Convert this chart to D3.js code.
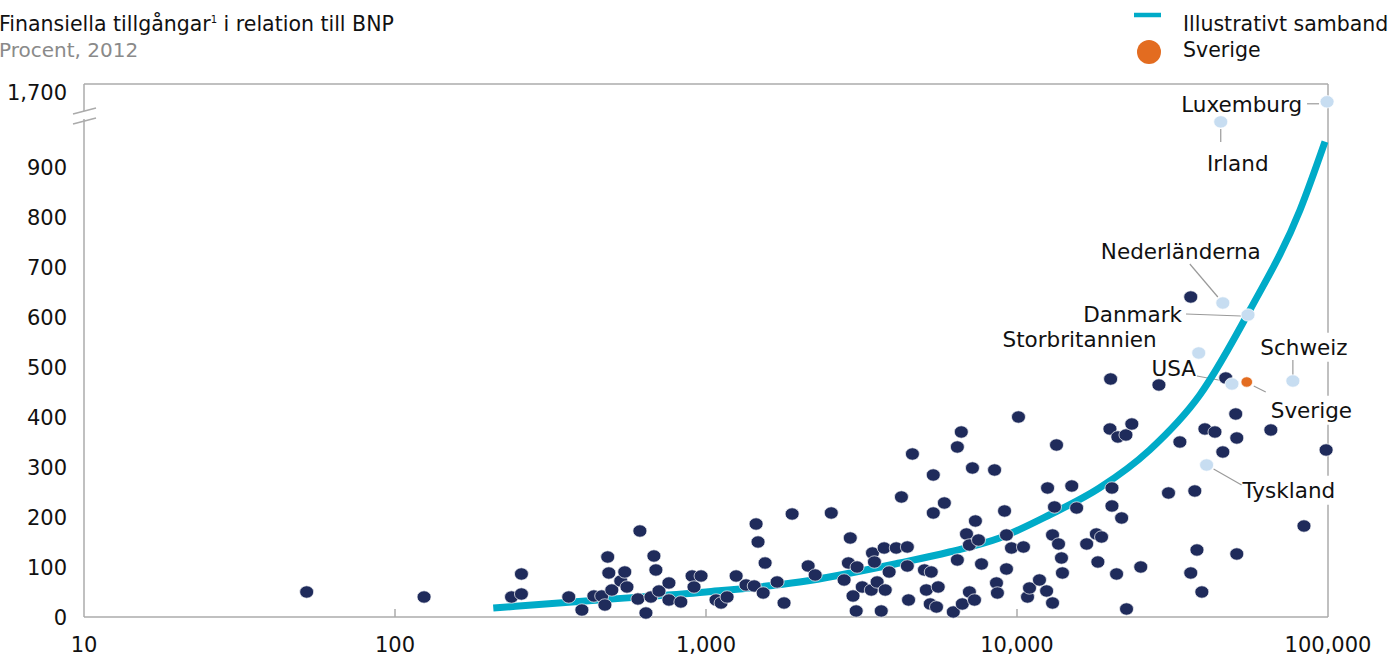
<!DOCTYPE html>
<html lang="sv">
<head>
<meta charset="utf-8">
<title>Finansiella tillgångar i relation till BNP</title>
<script src="https://cdn.jsdelivr.net/npm/d3@7/dist/d3.min.js"></script>
<style>
  body { margin: 0; background: #fff; }
  svg { font-family: "DejaVu Sans", sans-serif; }
</style>
</head>
<body>
<div class="chart"></div>
<script>
// BNP per capita (USD) och finansiella tillgångar (% av BNP), 2012
var gdp = [52, 124, 237, 255, 255, 362, 399, 436, 462, 473, 483, 487, 498, 532, 548, 557, 613, 604, 641, 665,
  680, 690, 706, 760, 760, 830, 902, 964, 915, 1077, 1118, 1169, 1250, 1345, 1429, 1449, 1470, 1527, 1549, 1693,
  1782, 1892, 2130, 2244, 2528, 2780, 2910, 2870, 3060, 2970, 3040, 3180, 3400, 3430, 3480, 3550, 3660, 3740, 3770, 3880,
  4090, 4250, 4440, 4440, 4480, 4610, 5040, 5110, 5300, 5260, 5510, 5380, 5380, 5580, 5840, 6240, 6430, 6430, 6620, 6670,
  6880, 7030, 7030, 7190, 7300, 7350, 7520, 7690, 8470, 8590, 8650, 9120, 9250, 9250, 9600, 10490, 10810, 10110, 10970, 11810,
  12450, 13010, 13010, 13600, 13900, 14000, 12540, 13400, 15000, 13200, 15550, 16750, 18000, 18700, 18200, 20900, 25000, 22500, 19900, 21100,
  22400, 23400, 20200, 20200, 21700, 20000, 28600, 33400, 30700, 37300, 37900, 36200, 39300, 40200, 43300, 45900, 50900, 50500, 65500, 50900,
  83700, 98600, 36200, 46900];
var assets = [50, 40, 40, 86, 46, 40, 14, 42, 42, 24, 120, 88, 54, 72, 90, 60, 172, 36, 8, 40,
  122, 94, 52, 68, 34, 30, 82, 82, 60, 34, 28, 40, 82, 64, 62, 186, 150, 48, 108, 70,
  28, 206, 102, 84, 208, 74, 158, 108, 100, 42, 12, 60, 54, 128, 110, 70, 12, 138, 54, 90,
  138, 240, 140, 102, 34, 326, 94, 54, 90, 26, 20, 284, 208, 60, 228, 10, 114, 340, 370, 26,
  166, 144, 50, 298, 34, 192, 154, 106, 294, 68, 48, 212, 96, 164, 138, 140, 40, 400, 58, 74,
  52, 28, 164, 146, 118, 88, 258, 344, 262, 220, 218, 146, 166, 160, 110, 86, 100, 16, 376, 360,
  364, 386, 258, 222, 198, 476, 464, 350, 248, 252, 134, 88, 50, 376, 370, 330, 358, 406, 374, 126,
  182, 334, 640, 478];

// utvalda länder
var countries = ["Luxemburg", "Irland", "Nederländerna", "Danmark", "Storbritannien", "USA", "Schweiz", "Tyskland", "Sverige"];
var countryGdp = [99300, 45200, 45900, 55300, 38400, 49100, 77100, 40700, 54800];
var countryAssets = [1470, 1210, 628, 604, 528, 466, 472, 304, 470];

// illustrativt samband
var curveGdp = [207, 452, 1000, 2000, 4190, 6060, 8790, 12700, 18400, 26700, 38700, 56100, 81300, 97800];
var curveAssets = [18, 34, 50, 70, 108, 130, 158, 204, 258, 334, 444, 614, 814, 954];

var xTicks = [10, 100, 1000, 10000, 100000];
var yTicks = [0, 100, 200, 300, 400, 500, 600, 700, 800, 900, 1700];

// etiketter: ankare, textförskjutning och hjälplinje relativt punkten
var labelLayout = {
  "Luxemburg":      {anchor: "end",    tx: -25, ty: 2,   line: [-20, 2, -8, 2]},
  "Irland":         {anchor: "middle", tx: 17,  ty: 41,  line: [0, 7, 0, 20]},
  "Nederländerna":  {anchor: "middle", tx: -42, ty: -52, line: [-33, -39, -5, -6]},
  "Danmark":        {anchor: "end",    tx: -66, ty: -1,  line: [-62, -1, -7, 1]},
  "Storbritannien": {anchor: "end",    tx: -42, ty: -14, line: null},
  "USA":            {anchor: "end",    tx: -36, ty: -16, line: [-35, -8, -8, -3]},
  "Schweiz":        {anchor: "middle", tx: 11,  ty: -34, line: [0, -21, 0, -6]},
  "Tyskland":       {anchor: "start",  tx: 36,  ty: 25,  line: [7, 4, 35, 20]},
  "Sverige":        {anchor: "start",  tx: 24,  ty: 28,  line: [7, 4, 19, 10]}
};

var w = 1391, h = 657;
var svg = d3.select("div.chart").append("svg")
  .attr("width", w).attr("height", h);

var x = d3.scaleLog().domain([10, 100000]).range([84, 1328]);
var y = d3.scaleLinear().domain([0, 950, 1700]).range([617, 142, 84]);
var yTop = y(1700), yBottom = y(0), xLeft = x(10), xRight = x(100000);

// rubrik
var title = svg.append("text").attr("x", -1).attr("y", 31)
  .attr("font-size", 20.5).attr("fill", "#111");
title.append("tspan").text("Finansiella tillgångar");
title.append("tspan").attr("font-size", 10).attr("dy", -8).text("1");
title.append("tspan").attr("dy", 8).text(" i relation till BNP");
svg.append("text").attr("x", -1).attr("y", 57)
  .attr("font-size", 20).attr("fill", "#8a8a8a").text("Procent, 2012");

// legend
svg.append("line").attr("x1", 1134).attr("x2", 1161).attr("y1", 15).attr("y2", 15)
  .attr("stroke", "#00abc8").attr("stroke-width", 4.5);
svg.append("text").attr("x", 1183).attr("y", 31).attr("font-size", 20.5).attr("fill", "#111")
  .text("Illustrativt samband");
svg.append("circle").attr("cx", 1149).attr("cy", 52).attr("r", 12).attr("fill", "#e36c20");
svg.append("text").attr("x", 1183).attr("y", 57).attr("font-size", 20.5).attr("fill", "#111")
  .text("Sverige");

// ram och axlar
var axisColor = "#ababab";
svg.append("line").attr("x1", xLeft).attr("x2", xRight).attr("y1", yTop).attr("y2", yTop)
  .attr("stroke", axisColor).attr("stroke-width", 1.5);
svg.append("line").attr("x1", xRight).attr("x2", xRight).attr("y1", yTop).attr("y2", yBottom)
  .attr("stroke", axisColor).attr("stroke-width", 1.5);
svg.append("line").attr("x1", xLeft).attr("x2", xRight).attr("y1", yBottom).attr("y2", yBottom)
  .attr("stroke", axisColor).attr("stroke-width", 1.5);
// y-axel med brytning
svg.append("line").attr("x1", xLeft).attr("x2", xLeft).attr("y1", yTop).attr("y2", 111)
  .attr("stroke", axisColor).attr("stroke-width", 1.5);
svg.append("line").attr("x1", xLeft).attr("x2", xLeft).attr("y1", 119).attr("y2", yBottom)
  .attr("stroke", axisColor).attr("stroke-width", 1.5);
[0, 10].forEach(function(o) {
  svg.append("line").attr("x1", xLeft - 11).attr("x2", xLeft + 12)
    .attr("y1", 114 + o).attr("y2", 108 + o)
    .attr("stroke", axisColor).attr("stroke-width", 1.5);
});

svg.selectAll("line.xtick").data(xTicks.slice(1, 4)).enter().append("line")
  .attr("class", "xtick")
  .attr("x1", function(d) { return x(d); }).attr("x2", function(d) { return x(d); })
  .attr("y1", yBottom).attr("y2", yBottom - 8)
  .attr("stroke", axisColor).attr("stroke-width", 1.5);

svg.selectAll("text.xlabel").data(xTicks).enter().append("text")
  .attr("class", "xlabel")
  .attr("x", function(d) { return x(d); }).attr("y", 652)
  .attr("text-anchor", "middle").attr("font-size", 21).attr("fill", "#111")
  .text(function(d) { return d3.format(",")(d); });

svg.selectAll("text.ylabel").data(yTicks).enter().append("text")
  .attr("class", "ylabel")
  .attr("x", 67)
  .attr("y", function(d) { return y(d) + (d === 1700 ? 8 : 0); })
  .attr("dy", "0.36em")
  .attr("text-anchor", "end").attr("font-size", 21).attr("fill", "#111")
  .text(function(d) { return d3.format(",")(d); });

// etiketter (text först för att kunna bryta ramen)
var hl = countries.map(function(c, i) {
  return {name: c, px: x(countryGdp[i]), py: y(countryAssets[i]), lay: labelLayout[c]};
});
var labelG = svg.append("g");
var labels = labelG.selectAll("text").data(hl).enter().append("text")
  .attr("x", function(d) { return d.px + d.lay.tx; })
  .attr("y", function(d) { return d.py + d.lay.ty; })
  .attr("dy", "0.36em")
  .attr("text-anchor", function(d) { return d.lay.anchor; })
  .attr("font-size", 21.5).attr("fill", "#111")
  .text(function(d) { return d.name; });
labels.each(function() {
  var b = this.getBBox();
  if (b.x < xRight && b.x + b.width > xRight) {
    labelG.insert("rect", "text").attr("x", b.x - 3).attr("y", b.y - 2)
      .attr("width", b.width + 6).attr("height", b.height + 4).attr("fill", "#fff");
  }
});

// hjälplinjer
svg.selectAll("line.leader").data(hl.filter(function(d) { return d.lay.line; })).enter().append("line")
  .attr("class", "leader")
  .attr("x1", function(d) { return d.px + d.lay.line[0]; })
  .attr("y1", function(d) { return d.py + d.lay.line[1]; })
  .attr("x2", function(d) { return d.px + d.lay.line[2]; })
  .attr("y2", function(d) { return d.py + d.lay.line[3]; })
  .attr("stroke", "#9a9a9a").attr("stroke-width", 1.2);

// samband
var curve = curveGdp.map(function(g, i) { return [g, curveAssets[i]]; });
svg.append("path").datum(curve)
  .attr("d", d3.line()
    .x(function(d) { return x(d[0]); })
    .y(function(d) { return y(d[1]); })
    .curve(d3.curveMonotoneX))
  .attr("fill", "none").attr("stroke", "#00abc8").attr("stroke-width", 7);

// punkter
var pts = gdp.map(function(g, i) { return [g, assets[i]]; });
svg.selectAll("ellipse.dot").data(pts).enter().append("ellipse")
  .attr("class", "dot")
  .attr("cx", function(d) { return x(d[0]); })
  .attr("cy", function(d) { return y(d[1]); })
  .attr("rx", 7).attr("ry", 6.2)
  .attr("fill", "#1f2b5b").attr("stroke", "#fff").attr("stroke-width", 0.7);

svg.selectAll("ellipse.hl").data(hl).enter().append("ellipse")
  .attr("class", "hl")
  .attr("cx", function(d) { return d.px; })
  .attr("cy", function(d) { return d.py; })
  .attr("rx", function(d) { return d.name === "Sverige" ? 5.8 : 7; })
  .attr("ry", function(d) { return d.name === "Sverige" ? 5.2 : 6.2; })
  .attr("fill", function(d) { return d.name === "Sverige" ? "#e36c20" : "#c7ddf1"; })
  .attr("stroke", "#fff").attr("stroke-width", 0.7);
</script>
</body>
</html>
